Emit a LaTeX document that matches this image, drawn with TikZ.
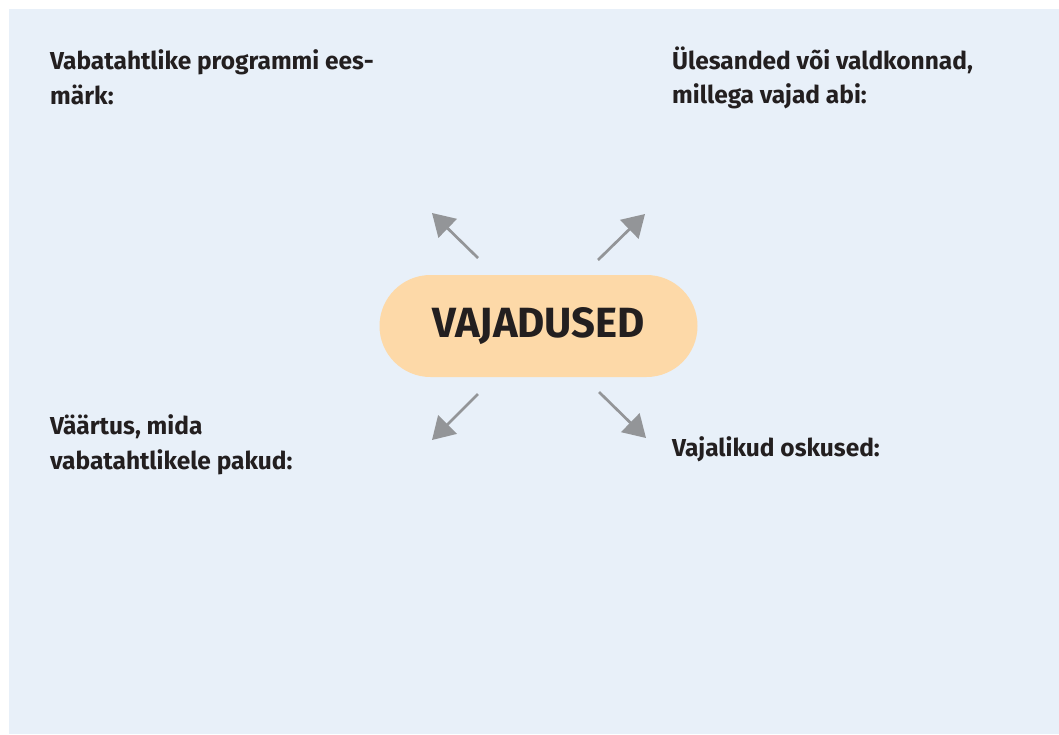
\documentclass[tikz,border=0pt]{standalone}
\usepackage{fontspec}
\setmainfont{Fira Sans}
\usetikzlibrary{arrows.meta}
\definecolor{bgblue}{HTML}{E8F0F9}
\definecolor{pillfill}{HTML}{FDD9A8}
\definecolor{arrowgray}{HTML}{939598}
\definecolor{inktext}{HTML}{231F20}
\tikzset{
  label text/.style={anchor=base west, inner sep=0pt, text=inktext,
    font=\fontsize{24.5}{29}\selectfont\bfseries},
  pill/.style={fill=pillfill, rounded corners=51pt, minimum width=318pt,
    minimum height=102pt, inner sep=0pt, text=inktext},
  ray/.style={draw=arrowgray, line width=2.7pt,
    -{Triangle[length=22pt,width=26pt]}}
}
\begin{document}
\begin{tikzpicture}[x=1pt,y=-1pt]
\useasboundingbox (0,0) rectangle (1059,734);
\fill[bgblue] (9,9) rectangle (1059,734);
\node[pill] (center) at (538.5,326) {\resizebox{213pt}{30pt}{\bfseries VAJADUSED}};
\node[label text] (tl1) at (50,69.3) {Vabatahtlike programmi ees-};
\node[label text] (tl2) at (50,104) {märk:};
\node[label text] (tr1) at (672,69.3) {Ülesanded või valdkonnad,};
\node[label text] (tr2) at (672,103.5) {millega vajad abi:};
\node[label text] (bl1) at (50,434.3) {Väärtus, mida};
\node[label text] (bl2) at (50,469) {vabatahtlikele pakud:};
\node[label text] (br1) at (672,456.7) {Vajalikud oskused:};
\coordinate (s1) at (478,258); \coordinate (e1) at (432,213);
\coordinate (s2) at (598,260); \coordinate (e2) at (645,214);
\coordinate (s3) at (478,394); \coordinate (e3) at (432,440);
\coordinate (s4) at (599,392); \coordinate (e4) at (646,438);
\draw[ray] (s1) -- (e1);
\draw[ray] (s2) -- (e2);
\draw[ray] (s3) -- (e3);
\draw[ray] (s4) -- (e4);
\end{tikzpicture}
\end{document}
